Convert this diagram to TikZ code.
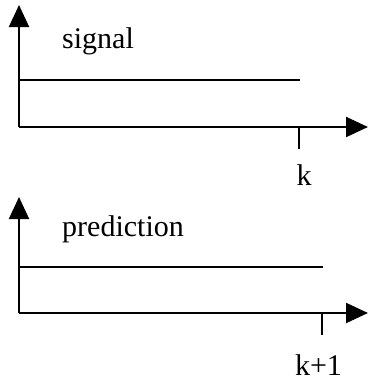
\documentclass[tikz,border=0pt]{standalone}
\usepackage{fontspec}
\setmainfont{Liberation Serif}
\usetikzlibrary{arrows.meta}
\tikzset{
  axis/.style={line width=2pt,-{Triangle[length=22pt,width=20pt]}},
  level/.style={line width=2pt},
  tick/.style={line width=1.2pt},
  lbl/.style={inner sep=0pt,font=\fontsize{30}{32}\selectfont}
}
\begin{document}
\begin{tikzpicture}[x=1pt,y=-1pt]
  \useasboundingbox (0,0) rectangle (368,381);
  % panels: axis height / arrow tip / end of level / tick / text / label
  \foreach \i/\ax/\tip/\lev/\len/\tk/\txt/\ty/\lab/\lx/\ly in
    {1/127/5/80/300/299/signal/48/k/304/185,
     2/313/197/267/323/322/prediction/236/k+1/318.5/375}
  {
    \coordinate (o\i) at (19,\ax);
    \coordinate (y\i) at (19,\tip);
    \coordinate (x\i) at (368,\ax);
    \draw[axis] (o\i) -- (y\i);
    \draw[axis] (o\i) -- (x\i);
    \coordinate (a\i) at (19,\lev);
    \coordinate (b\i) at (\len,\lev);
    \draw[level] (a\i) -- (b\i);
    \coordinate (t\i) at (\tk,\ax);
    \draw[tick] (t\i) -- ++(0,22);
    \node[lbl,anchor=base west] (txt\i) at (62,\ty) {\txt};
    \node[lbl,anchor=base,text depth=0pt] (lab\i) at (\lx,\ly) {\lab};
  }
\end{tikzpicture}
\end{document}
